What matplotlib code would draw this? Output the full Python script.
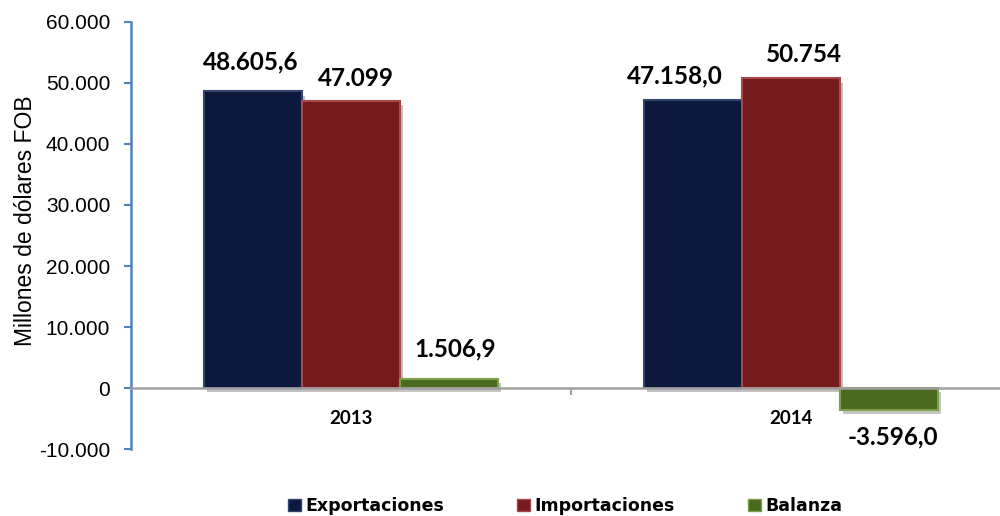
import matplotlib
matplotlib.use("Agg")
import matplotlib.pyplot as plt
import matplotlib.ticker as mticker
import matplotlib.patheffects as pe
import numpy as np
from matplotlib.patches import Patch

years = ["2013", "2014"]
series = ["Exportaciones", "Importaciones", "Balanza"]
exportaciones = [48605.6, 47158.0]
importaciones = [47099, 50754]
balanza = [1506.9, -3596.0]
labels_exp = ["48.605,6", "47.158,0"]
labels_imp = ["47.099", "50.754"]
labels_bal = ["1.506,9", "-3.596,0"]

colors = ["#0b1a3c", "#761b1b", "#4a6a20"]
edge = ["#34466e", "#a84848", "#7da04a"]

fig = plt.figure(figsize=(10, 5.16), dpi=100)
ax = fig.add_axes([0.131, 0.1298, 0.88, 0.8276])

x = np.arange(len(years))
w = 0.2227
vals = [exportaciones, importaciones, balanza]
labs = [labels_exp, labels_imp, labels_bal]
# label offsets in points (dx, dy)
offsets = [[(-2, 21.6), (-13, 17.3)],
           [(3.6, 15.8), (9.4, 17.3)],
           [(4.3, 21.6), (3, -19.4)]]
shadow = [pe.SimplePatchShadow(offset=(2, -3), alpha=0.25), pe.Normal()]
for i, (v, lab, c, e) in enumerate(zip(vals, labs, colors, edge)):
    xs = x + (i - 1) * w
    bars = ax.bar(xs, v, width=w, color=c, edgecolor=e, linewidth=1.5, zorder=3)
    for b in bars:
        b.set_path_effects(shadow)
    for j in range(len(years)):
        ax.annotate(lab[j], (xs[j], v[j]), xytext=offsets[i][j],
                    textcoords="offset points", ha="center", va="center",
                    fontsize=17.5, fontweight="bold", family="Lato", color="black")

ax.set_xlim(-0.5, 1.5)
ax.set_ylim(-10000, 60000)
ax.set_yticks(np.arange(-10000, 60001, 10000))
ax.yaxis.set_major_formatter(mticker.FuncFormatter(lambda v, p: f"{int(v):,}".replace(",", ".")))
ax.tick_params(axis="y", direction="out", length=5, width=1.5, color="#4f81bd",
               labelsize=15, pad=10)
for t in ax.get_yticklabels():
    t.set_family("Liberation Sans")

ax.spines["top"].set_visible(False)
ax.spines["right"].set_visible(False)
ax.spines["left"].set_color("#4f81bd")
ax.spines["left"].set_linewidth(1.8)
ax.spines["bottom"].set_position(("data", 0))
ax.spines["bottom"].set_color("#a0a0a0")
ax.spines["bottom"].set_linewidth(1.8)
ax.spines["bottom"].set_zorder(4)

ax.set_xticks(x)
ax.set_xticklabels(years, fontsize=13.5, fontweight="bold", family="Lato")
ax.tick_params(axis="x", which="major", length=0, pad=16)
ax.set_xticks([0.5], minor=True)
ax.tick_params(axis="x", which="minor", length=5, width=1.5, direction="out", color="#a0a0a0")

ax.set_ylabel("Millones de dólares FOB", fontsize=16.5, family="Liberation Sans")
ax.yaxis.set_label_coords(-0.107, 0.534)

handles = [Patch(facecolor=c, edgecolor=e) for c, e in zip(colors, edge)]
fig.legend(handles, series, loc="center", bbox_to_anchor=(0.565, 0.019), ncol=3,
           frameon=False, handlelength=0.75, handleheight=0.75, handletextpad=0.25,
           columnspacing=4.2, borderpad=0.1,
           prop={"family": "DejaVu Sans", "weight": "bold", "size": 12.5})

fig.savefig("out.png", dpi=100)
